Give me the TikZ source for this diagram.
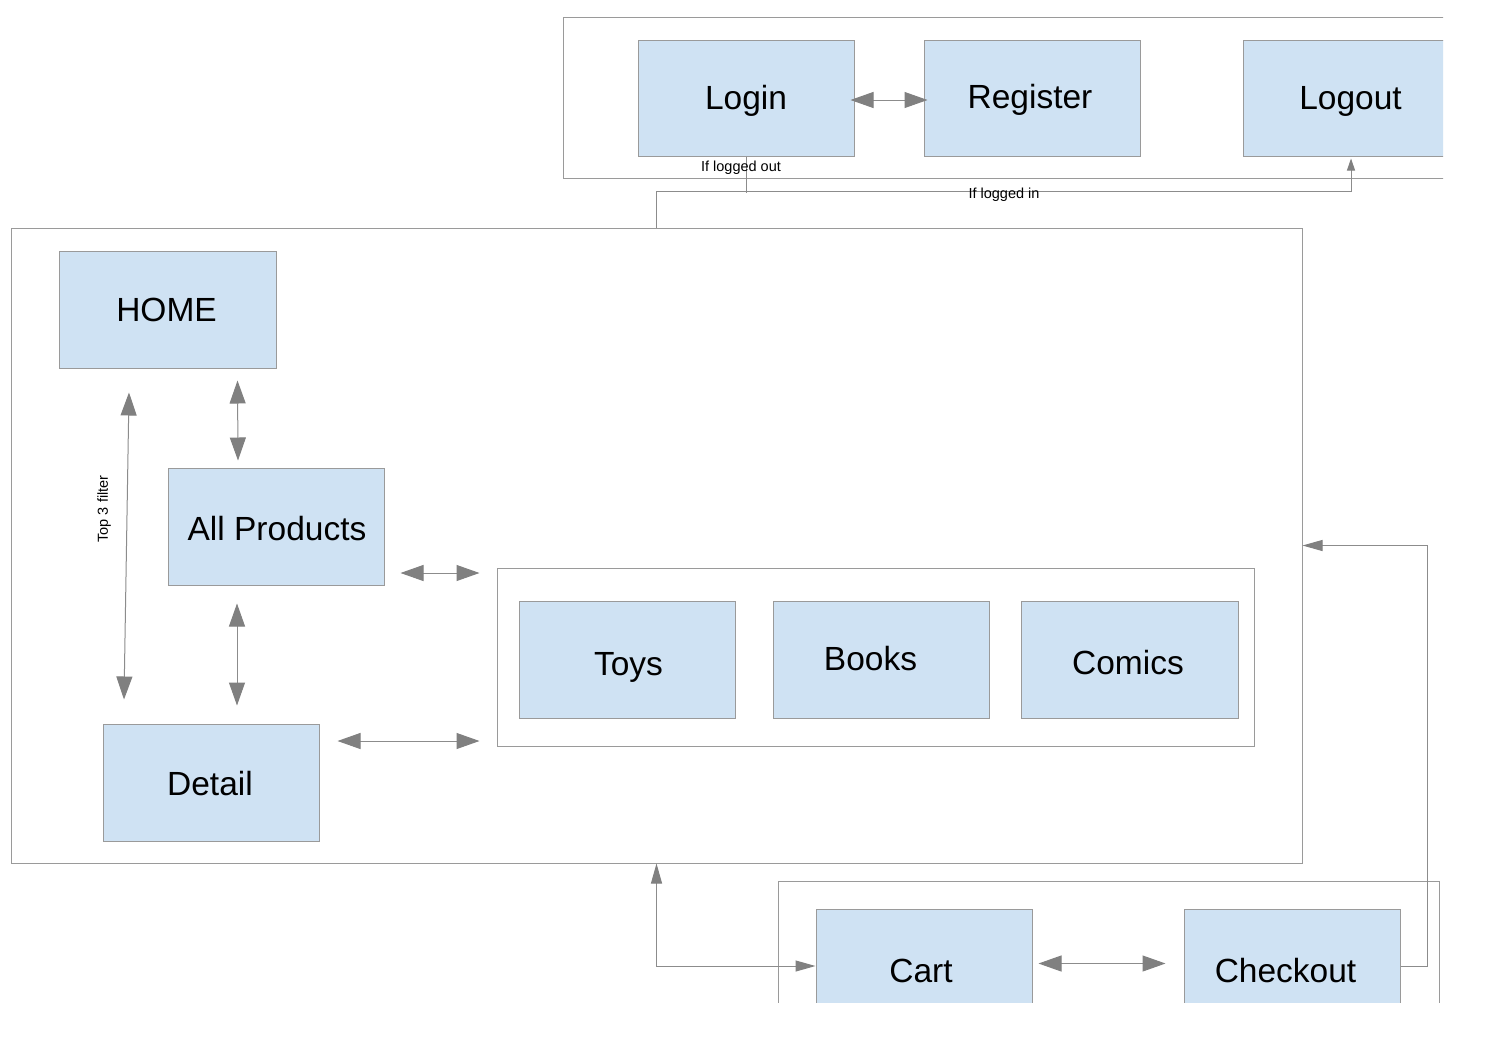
\documentclass[tikz,border=0pt]{standalone}
\usepackage{fontspec}
\setmainfont{Liberation Sans}
\usetikzlibrary{arrows.meta}
\definecolor{boxfill}{HTML}{CFE2F3}
\definecolor{boxline}{HTML}{9A9A9A}
\definecolor{lineg}{HTML}{8C8C8C}
\definecolor{headg}{HTML}{808080}
\newcommand\boxtxt[3]{\raisebox{#2}{\hspace*{#1}#3}}
\tikzset{
  box/.style={draw=boxline, fill=boxfill, line width=1pt, rectangle, inner sep=0pt,
    minimum width=216pt, minimum height=117pt, text height=24pt, text depth=8pt,
    font=\fontsize{33.5}{40}\selectfont},
  cont/.style={draw=boxline, line width=1pt, rectangle, inner sep=0pt},
  conn/.style={draw=lineg, line width=1pt},
  bigarr/.style={conn, {Triangle[length=23pt,width=16pt,fill=headg,color=headg]}-{Triangle[length=23pt,width=16pt,fill=headg,color=headg]}},
  smallarr/.style={conn, -{Triangle[length=20pt,width=11pt,fill=headg,color=headg]}},
  smallarrb/.style={conn, {Triangle[length=20pt,width=11pt,fill=headg,color=headg]}-{Triangle[length=20pt,width=11pt,fill=headg,color=headg]}},
  tinyarr/.style={conn, -{Triangle[length=12pt,width=8pt,fill=headg,color=headg]}},
  lbl/.style={font=\fontsize{14.5}{16}\selectfont, inner sep=0pt}
}
\begin{document}
\begin{tikzpicture}[x=1pt,y=-1pt]
\useasboundingbox (0,0) rectangle (1497,1058);
\fill[white] (0,0) rectangle (1497,1058);
\begin{scope}
\clip (0,0) rectangle (1443,1002);
% containers
\node[cont, minimum width=907pt, minimum height=161pt] (topc) at (1016.5,97.5) {};
\node[cont, minimum width=1291pt, minimum height=635pt] (mainc) at (656.5,545.5) {};
\node[cont, minimum width=757pt, minimum height=178pt] (innerc) at (875.5,657) {};
\node[cont, minimum width=661pt, minimum height=219pt] (botc) at (1108.5,990.5) {};
% boxes
\node[box, minimum height=116pt] (login) at (746,98) {\boxtxt{0pt}{-3pt}{Login}};
\node[box, minimum height=116pt] (register) at (1032,98) {\boxtxt{-4pt}{-2pt}{Register}};
\node[box, minimum height=116pt] (logout) at (1351,98) {\boxtxt{-1pt}{-3pt}{Logout}};
\node[box, minimum width=217pt] (home) at (167.5,309.5) {\boxtxt{-2pt}{-4pt}{HOME}};
\node[box] (allp) at (276,526.5) {\boxtxt{2pt}{-5.5pt}{All Products}};
\node[box] (detail) at (211,782.5) {\boxtxt{-2pt}{-4.5pt}{Detail}};
\node[box] (toys) at (627,659.5) {\boxtxt{3pt}{-8pt}{Toys}};
\node[box] (books) at (881,659.5) {\boxtxt{-21pt}{-2.5pt}{Books}};
\node[box, minimum width=217pt] (comics) at (1129.5,659.5) {\boxtxt{-3pt}{-6.5pt}{Comics}};
\node[box] (cart) at (924,967.5) {\boxtxt{-6pt}{-6.5pt}{Cart}};
\node[box] (checkout) at (1292,967.5) {\boxtxt{-13pt}{-6.5pt}{Checkout}};
% connectors
\draw[bigarr] ([shift={(-4,2)}]login.east) -- ([shift={(4,2)}]register.west);
\draw[conn] (login.south) -- ++(0,36);
\draw[tinyarr] (mainc.north) -- ++(0,-36) -| ([shift={(0,2)}]logout.south);
\node[lbl] (lout) at (741,167.5) {If logged out};
\node[lbl] (lin) at (1004,194.5) {If logged in};
\draw[bigarr] ([shift={(70,12)}]home.south) -- ([shift={(-38,-7)}]allp.north);
\draw[bigarr] ([shift={(-38.5,24)}]home.south) -- ([shift={(-87,-24)}]detail.north);
\node[lbl, rotate=90] (top3l) at (104,509) {Top 3 filter};
\draw[bigarr] ([shift={(-39,18)}]allp.south) -- ([shift={(26,-18)}]detail.north);
\draw[bigarr] ([shift={(16,46.5)}]allp.east) -- ([shift={(-17,-84)}]innerc.west);
\draw[bigarr] ([shift={(18,-41.5)}]detail.east) -- ([shift={(-17,84)}]innerc.west);
\draw[bigarr] ([shift={(6,-4)}]cart.east) -- ([shift={(-18,-4)}]checkout.west);
\draw[smallarrb] (mainc.south) |- ([shift={(0,-1.5)}]cart.west);
\draw[smallarr] ([shift={(0,-1.5)}]checkout.east) -- ++(27,0) |- (mainc.east);
\end{scope}
\end{tikzpicture}
\end{document}
